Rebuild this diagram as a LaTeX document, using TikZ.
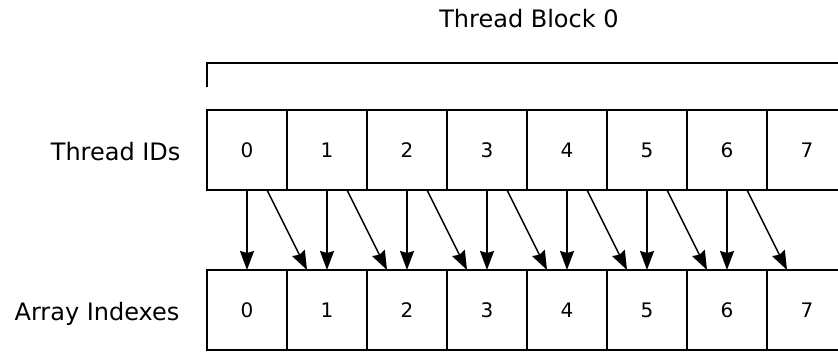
\documentclass[tikz,border=0pt]{standalone}
\usepackage{fontspec}
\setsansfont{DejaVu Sans}
\usetikzlibrary{calc,arrows.meta}
\tikzset{Cell Style/.style={draw, line width=1.6pt, minimum size=80pt, inner sep=0pt, outer sep=0pt,
		font=\sffamily\fontsize{20}{22}\selectfont},
	Row Label/.style={anchor=base east, font=\sffamily\fontsize{24}{28}\selectfont},
	Map Arrow/.style={line width=1.5pt, -{Stealth[length=19pt,width=14pt,inset=2pt]}}}

\begin{document}
\begin{tikzpicture}[x=1pt,y=1pt]
		\clip (0,0) rectangle (838,352);
		\foreach \i in {0,1,2,3,4,5,6,7}{%
			\node[Cell Style] (t\i) at ({247+80*\i},202) {\i};
			\node[Cell Style] (a\i) at ({247+80*\i},42) {\i};
		}
		\node[Row Label] (tid) at (184,191) {Thread IDs};
		\node[Row Label] (aid) at (183,31) {Array Indexes};
		
		\coordinate (brL) at (207,289);
		\coordinate (brT) at (207,265);
		\coordinate (brR) at (838,289);
		\draw[line width=1.6pt] (brT) -- (brL) -- (brR);
		\node[anchor=base, font=\sffamily\fontsize{24}{28}\selectfont] (blk) at (529,324) {Thread Block 0};
		
		\foreach \i in {0,1,2,3,4,5,6}{%
			\draw[Map Arrow] (t\i.south) -- (a\i.north);
		}
		\foreach \i [evaluate=\i as \j using int(\i+1)] in {0,1,2,3,4,5,6}{%
			\draw[Map Arrow] ($(t\i.south)!0.5!(t\i.south east)$) -- ($(a\j.north west)!0.5!(a\j.north)$);
		}
	\end{tikzpicture}
\end{document}
